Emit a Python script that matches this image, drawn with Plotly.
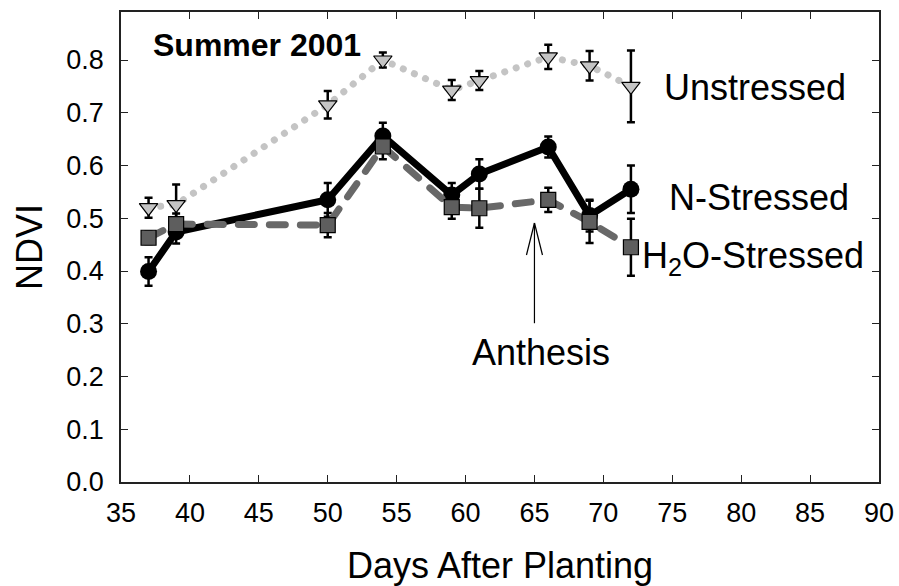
import plotly.graph_objects as go

# ---------------- data ----------------
days = [37, 39, 50, 54, 59, 61, 66, 69, 72]

unstressed = [0.520, 0.526, 0.715, 0.800, 0.743, 0.761, 0.806, 0.789, 0.750]
unstressed_err = [0.019, 0.038, 0.026, 0.014, 0.019, 0.018, 0.023, 0.028, 0.068]

n_stressed = [0.399, 0.474, 0.535, 0.656, 0.544, 0.584, 0.635, 0.505, 0.555]
n_stressed_err = [0.027, 0.022, 0.032, 0.025, 0.023, 0.028, 0.020, 0.030, 0.045]

h2o_stressed = [0.463, 0.489, 0.487, 0.636, 0.521, 0.519, 0.535, 0.493, 0.445]
h2o_stressed_err = [0.012, 0.020, 0.023, 0.024, 0.022, 0.037, 0.023, 0.040, 0.054]

x_ticks = [35, 40, 45, 50, 55, 60, 65, 70, 75, 80, 85, 90]
y_ticks = [0.0, 0.1, 0.2, 0.3, 0.4, 0.5, 0.6, 0.7, 0.8]

anthesis_day = 65

FONT = "Liberation Sans, Arial, sans-serif"

fig = go.Figure()

err_style = dict(type="data", visible=True, color="black", thickness=2.5, width=4)

fig.add_trace(go.Scatter(
    x=days, y=unstressed, name="Unstressed", mode="lines+markers",
    line=dict(color="#c4c4c4", width=7, dash="0.1px,12px"),
    marker=dict(symbol="triangle-down", size=16, color="#c4c4c4",
                line=dict(color="black", width=1.2)),
    error_y=dict(array=unstressed_err, **err_style),
))
fig.add_trace(go.Scatter(
    x=days, y=n_stressed, name="N-Stressed", mode="lines+markers",
    line=dict(color="black", width=7),
    marker=dict(symbol="circle", size=17, color="black"),
    error_y=dict(array=n_stressed_err, **err_style),
))
fig.add_trace(go.Scatter(
    x=days, y=h2o_stressed, name="H2O-Stressed", mode="lines+markers",
    line=dict(color="#686868", width=7, dash="16px,15px"),
    marker=dict(symbol="square", size=15, color="#5e5e5e",
                line=dict(color="black", width=1.2)),
    error_y=dict(array=h2o_stressed_err, **err_style),
))

annotations = [
    dict(x=37.25, y=0.828, text="<b>Summer 2001</b>", size=32),
    dict(x=74.3, y=0.747, text="Unstressed", size=36),
    dict(x=74.7, y=0.540, text="N-Stressed", size=36),
    dict(x=72.75, y=0.425, text="H<sub>2</sub>O-Stressed", size=36),
    dict(x=60.4, y=0.246, text="Anthesis", size=36),
]
for a in annotations:
    fig.add_annotation(xref="x", yref="y", showarrow=False, xanchor="left",
                       yanchor="middle", borderpad=0,
                       font=dict(family=FONT, color="black", size=a["size"]),
                       x=a["x"], y=a["y"], text=a["text"])

# Anthesis arrow: shaft + open head
arrow_tip, arrow_tail = 0.491, 0.301
fig.add_shape(type="line", xref="x", yref="y", x0=anthesis_day, x1=anthesis_day,
              y0=arrow_tail, y1=arrow_tip, line=dict(color="black", width=1.2))
for dx in (-8, 8):
    fig.add_shape(type="line", xref="x", yref="y",
                  xsizemode="pixel", xanchor=anthesis_day, x0=0, x1=dx,
                  ysizemode="pixel", yanchor=arrow_tip, y0=0, y1=-32,
                  line=dict(color="black", width=1.2))

axis_common = dict(
    showline=True, linecolor="#222", linewidth=1.5, mirror="ticks",
    ticks="inside", ticklen=7, tickwidth=1.3, tickcolor="#222",
    showgrid=False, zeroline=False, automargin=False,
    tickfont=dict(family=FONT, size=27, color="black"),
)

fig.update_xaxes(range=[35, 90], tickvals=x_ticks, ticklabelstandoff=6,
                 title=dict(text="Days After Planting", standoff=27,
                            font=dict(family=FONT, size=36, color="black")),
                 **axis_common)
fig.update_yaxes(range=[0, 0.891], tickvals=y_ticks, tickformat=".1f",
                 ticklabelstandoff=10,
                 title=dict(text="NDVI", standoff=13,
                            font=dict(family=FONT, size=36, color="black")),
                 **axis_common)

fig.update_layout(
    width=899, height=586,
    margin=dict(l=121, r=20, t=12, b=104),
    paper_bgcolor="white", plot_bgcolor="white",
    showlegend=False,
    font=dict(family=FONT, color="black"),
)

post = """
document.body.style.margin = '0';
document.body.style.overflow = 'hidden';
var gd = document.getElementById('{plot_id}');
gd.querySelectorAll('.scatterlayer .js-line').forEach(function(p){
  p.style.strokeLinecap = 'round';
  p.style.strokeLinejoin = 'round';
});
"""

fig.write_html("out.html", post_script=post, config={"displayModeBar": False})
